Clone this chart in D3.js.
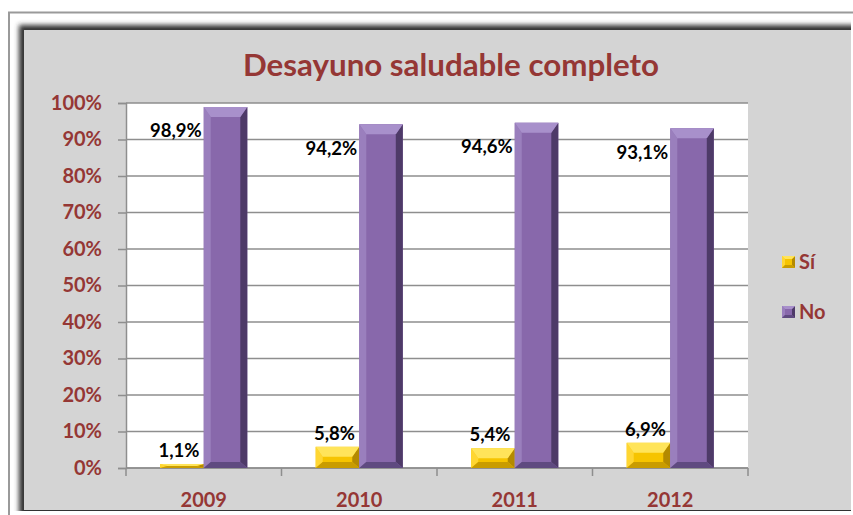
<!DOCTYPE html>
<html>
<head>
<meta charset="utf-8">
<script src="https://cdn.jsdelivr.net/npm/d3@7/dist/d3.min.js"></script>
<style>
  html, body { margin: 0; padding: 0; background: #fff; }
  svg { display: block; }
  text { font-family: Lato, "Open Sans", sans-serif; font-weight: bold; }
</style>
</head>
<body>
<svg id="chart" width="853" height="515"></svg>
<script>
// Desayuno saludable completo – share of "Sí" / "No" by year
const years = ["2009", "2010", "2011", "2012"];
const seriesNames = ["Sí", "No"];
const siValues = [1.1, 5.8, 5.4, 6.9];
const noValues = [98.9, 94.2, 94.6, 93.1];
const yTicks = [0, 10, 20, 30, 40, 50, 60, 70, 80, 90, 100];
const titleText = "Desayuno saludable completo";

const W = 853, H = 515;
const plot = { left: 126, right: 748, top: 103, bottom: 468 };
const red = "#953735";

const svg = d3.select("#chart");
const defs = svg.append("defs");

// ---- frame -------------------------------------------------------------
svg.append("rect").attr("width", W).attr("height", H).attr("fill", "#fff");
svg.append("path")
  .attr("d", `M9,${H} V12.5 H${W}`)
  .attr("fill", "none").attr("stroke", "#9a9a9a").attr("stroke-width", 2);

defs.append("filter").attr("id", "soft").attr("x", "-5%").attr("y", "-5%")
  .attr("width", "110%").attr("height", "110%")
  .append("feGaussianBlur").attr("stdDeviation", 2.4);
defs.append("clipPath").attr("id", "frameClip")
  .append("rect").attr("x", 0).attr("y", 0).attr("width", 851).attr("height", 511);

svg.append("g").attr("clip-path", "url(#frameClip)")
  .append("rect")
  .attr("x", 19).attr("y", 25).attr("width", 860).attr("height", 520)
  .attr("fill", "#303030").attr("filter", "url(#soft)");
svg.append("rect")
  .attr("x", 24).attr("y", 30).attr("width", 827).attr("height", 480)
  .attr("fill", "#d4d4d4");

// ---- title -------------------------------------------------------------
svg.append("text")
  .attr("x", 451).attr("y", 76)
  .attr("text-anchor", "middle")
  .attr("fill", red)
  .attr("font-size", 31)
  .attr("textLength", 416).attr("lengthAdjust", "spacingAndGlyphs")
  .text(titleText);

// ---- scales ------------------------------------------------------------
const x0 = d3.scaleBand().domain(years)
  .range([plot.left, plot.right]).paddingInner(0.44).paddingOuter(0.22);
const x1 = d3.scaleBand().domain(seriesNames).range([0, x0.bandwidth()]);
const y = d3.scaleLinear().domain([0, 100]).range([plot.bottom, plot.top]);

// plot background
svg.append("rect")
  .attr("x", plot.left).attr("y", plot.top)
  .attr("width", plot.right - plot.left).attr("height", plot.bottom - plot.top)
  .attr("fill", "#fff");

// gridlines
svg.append("g").selectAll("line").data(yTicks).join("line")
  .attr("x1", plot.left).attr("x2", plot.right)
  .attr("y1", d => y(d)).attr("y2", d => y(d))
  .attr("stroke", "#8e8e8e").attr("stroke-width", 1.5);

// y axis
const yAxis = svg.append("g")
  .attr("transform", `translate(${plot.left},0)`)
  .call(d3.axisLeft(y).tickValues(yTicks).tickSize(8).tickPadding(16)
    .tickFormat(d => d + "%"));
yAxis.select(".domain").attr("stroke", "#8e8e8e").attr("stroke-width", 1.5);
yAxis.selectAll(".tick line").attr("stroke", "#8e8e8e").attr("stroke-width", 1.5);
yAxis.selectAll(".tick text")
  .attr("fill", red).attr("font-size", 20)
  .attr("font-family", "Lato, sans-serif").attr("font-weight", "bold");

// x axis: baseline, boundary ticks, year labels
const step = x0.step();
const bounds = years.map(d => x0(d) - step * x0.paddingInner() / 2).concat([plot.right]);
const xAxis = svg.append("g");
xAxis.append("line")
  .attr("x1", plot.left).attr("x2", plot.right)
  .attr("y1", plot.bottom).attr("y2", plot.bottom)
  .attr("stroke", "#8e8e8e").attr("stroke-width", 1.5);
xAxis.selectAll("line.tk").data(bounds).join("line").attr("class", "tk")
  .attr("x1", d => d).attr("x2", d => d)
  .attr("y1", plot.bottom).attr("y2", plot.bottom + 8)
  .attr("stroke", "#8e8e8e").attr("stroke-width", 1.5);
xAxis.selectAll("text").data(years).join("text")
  .attr("x", d => x0(d) + x0.bandwidth() / 2)
  .attr("y", 507)
  .attr("text-anchor", "middle")
  .attr("fill", red).attr("font-size", 20)
  .text(d => d);

// ---- bevelled bars -----------------------------------------------------
const palettes = {
  "Sí": { face: "#f6c400", top: "#ffe45a", left: "#ffd632", right: "#b48a00", bottom: "#c99c00" },
  "No": { face: "#8868ab", top: "#a890cb", left: "#9a7fbd", right: "#4e3a68", bottom: "#5f4a80" }
};

function bevelBar(g, bx, by, w, h, pal, bev) {
  const sx = Math.min(bev.side, w / 4);
  const sy = Math.min(bev.top, h / 2);
  const sb = Math.min(bev.bottom, h / 2);
  const pts = a => a.map(p => p.join(",")).join(" ");
  g.append("rect").attr("x", bx).attr("y", by).attr("width", w).attr("height", h)
    .attr("fill", pal.face);
  g.append("polygon").attr("fill", pal.left)
    .attr("points", pts([[bx, by], [bx + sx, by + sy], [bx + sx, by + h - sb], [bx, by + h]]));
  g.append("polygon").attr("fill", pal.right)
    .attr("points", pts([[bx + w, by], [bx + w - sx, by + sy], [bx + w - sx, by + h - sb], [bx + w, by + h]]));
  g.append("polygon").attr("fill", pal.bottom)
    .attr("points", pts([[bx, by + h], [bx + w, by + h], [bx + w - sx, by + h - sb], [bx + sx, by + h - sb]]));
  g.append("polygon").attr("fill", pal.top)
    .attr("points", pts([[bx, by], [bx + w, by], [bx + w - sx, by + sy], [bx + sx, by + sy]]));
}

const fmt = v => d3.format(".1f")(v).replace(".", ",") + "%";
const rows = years.map((yr, i) => ({ year: yr, "Sí": siValues[i], "No": noValues[i] }));

const barsG = svg.append("g");
rows.forEach(r => {
  seriesNames.forEach(s => {
    const v = r[s];
    const bx = x0(r.year) + x1(s);
    const by = y(v);
    bevelBar(barsG, bx, by, x1.bandwidth(), y(0) - by, palettes[s],
      { side: 7, top: 10, bottom: 6 });
  });
});

// value labels
const labels = svg.append("g").attr("font-size", 18.5).attr("fill", "#000");
rows.forEach(r => {
  const siX = x0(r.year) + x1("Sí") + x1.bandwidth() / 2;
  labels.append("text")
    .attr("x", siX - 3).attr("y", y(r["Sí"]) - 7)
    .attr("text-anchor", "middle")
    .text(fmt(r["Sí"]));
  const noX = x0(r.year) + x1("No");
  labels.append("text")
    .attr("x", noX - 2).attr("y", Math.max(y(r["No"]) + 24, y(100) + 16))
    .attr("dy", "0.35em")
    .attr("text-anchor", "end")
    .text(fmt(r["No"]));
});

// ---- legend ------------------------------------------------------------
const legend = svg.append("g");
const legendRows = [{ name: "Sí", y: 262 }, { name: "No", y: 312 }];
legendRows.forEach(d => {
  bevelBar(legend, 782, d.y - 6, 13, 12, palettes[d.name], { side: 3, top: 3, bottom: 3 });
  legend.append("text")
    .attr("x", 799).attr("y", d.y).attr("dy", "0.36em")
    .attr("fill", red).attr("font-size", 20)
    .text(d.name);
});
</script>
</body>
</html>
